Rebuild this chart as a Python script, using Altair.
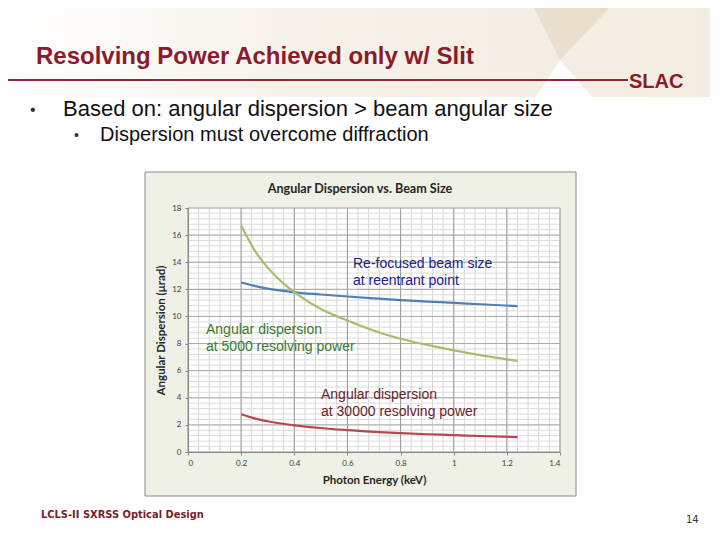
import altair as alt
import pandas as pd
import numpy as np

# ---- chart data ----
energy = [0.2, 0.25, 0.3, 0.35, 0.4, 0.5, 0.6, 0.7, 0.8, 0.9, 1.0, 1.1, 1.24]
disp_5000 = [16.7, 14.9, 13.6, 12.6, 11.8, 10.55, 9.7, 8.95, 8.35, 7.9, 7.5, 7.15, 6.72]
beam_size = [12.5, 12.25, 12.05, 11.9, 11.78, 11.62, 11.47, 11.33, 11.2, 11.1, 11.0, 10.9, 10.76]
disp_30000 = [2.78, 2.48, 2.27, 2.1, 1.97, 1.77, 1.61, 1.49, 1.39, 1.31, 1.25, 1.18, 1.1]

series_names = ["beam", "rp5000", "rp30000"]
series_colors = ["#4F7FB5", "#A6BD6A", "#B8464C"]

x_ticks = [0, 0.2, 0.4, 0.6, 0.8, 1.0, 1.2, 1.4]
y_ticks = [0, 2, 4, 6, 8, 10, 12, 14, 16, 18]

# ---- layout helpers ----
W, H = 372, 244
PX0, PY0 = 188, 208  # page position of plot origin


def px(x):
    return x - PX0


def py(y):
    return y - PY0


one = pd.DataFrame({"a": [0]})

xs = alt.Scale(domain=[0, 1.4], nice=False, zero=False)
ys = alt.Scale(domain=[0, 18], nice=False, zero=False)

x_axis = alt.Axis(values=x_ticks, labelExpr="format(datum.value, '~g')", grid=False,
                  title="Photon Energy (keV)", titleFont="Lato", titleFontSize=11.5,
                  titleFontWeight="bold", titleColor="#262626", titlePadding=7,
                  labelFont="Lato", labelFontSize=8, labelColor="#404040", labelPadding=4,
                  domainColor="#868686", tickColor="#868686", tickSize=3, zindex=1)
y_axis = alt.Axis(values=y_ticks, format="d", grid=False,
                  title="Angular Dispersion (μrad)", titleFont="Lato", titleFontSize=11.5,
                  titleFontWeight="bold", titleColor="#262626", titlePadding=5,
                  labelFont="Lato", labelFontSize=8, labelColor="#404040", labelPadding=4,
                  domainColor="#868686", tickColor="#868686", tickSize=3, zindex=1)


def txt(s, x, y, size, color, weight="normal", font="Liberation Sans", align="left",
        baseline="alphabetic"):
    return alt.Chart(one).mark_text(text=s, fontSize=size, color=color, fontWeight=weight,
                                    font=font, align=align, baseline=baseline).encode(
        x=alt.value(px(x)), y=alt.value(py(y)))


def shape(path, color):
    return alt.Chart(one).mark_point(shape=path, size=4, filled=True, opacity=1,
                                     fill=color, strokeWidth=0).encode(
        x=alt.value(0), y=alt.value(0))


def tri(pts):
    return "M" + " L".join(f"{px(a)},{py(b)}" for a, b in pts) + " Z"


# ---- slide decoration ----
header = alt.Chart(one).mark_rect(color=alt.Gradient(
    gradient="linear",
    stops=[alt.GradientStop(color="#FFFFFF", offset=0),
           alt.GradientStop(color="#F6F1E9", offset=0.45),
           alt.GradientStop(color="#F3ECE1", offset=1)],
    x1=0, x2=1, y1=0, y2=0)).encode(
    x=alt.value(px(0)), x2=alt.value(px(720)), y=alt.value(py(0)), y2=alt.value(py(97)))

dark_tri = shape(tri([(530, 0), (617, 0), (560, 60)]), "#EADFCC")
white_tri = shape(tri([(560, 60), (536, 97), (592, 97)]), "#FFFFFF")

hline = alt.Chart(one).mark_rule(color="#8C2A36", strokeWidth=2).encode(
    x=alt.value(px(0)), x2=alt.value(px(628)), y=alt.value(py(80)))

title = txt("Resolving Power Achieved only w/ Slit", 36, 64, 24, "#8B1A2B", weight="bold")
slac = txt("SLAC", 629, 88, 20, "#8B1A2B", weight="bold")
b1 = txt("•", 30, 115, 16, "#333333")
l1 = txt("Based on: angular dispersion > beam angular size", 63, 116, 22, "#111111")
b2 = txt("•", 74, 140, 14, "#333333")
l2 = txt("Dispersion must overcome diffraction", 100, 141, 20, "#111111")
footer = txt("LCLS-II SXRSS Optical Design", 41, 518, 11, "#7A1E2A", weight="bold",
             font="DejaVu Sans Condensed, Liberation Sans, sans-serif")
page_no = txt("14", 686, 523, 11, "#333333",
              font="DejaVu Sans Condensed, Liberation Sans, sans-serif")

# ---- chart frame ----
box = alt.Chart(one).mark_rect(fill="#EFF0E6", stroke="#8A8A8A", strokeWidth=1).encode(
    x=alt.value(px(145)), x2=alt.value(px(576)), y=alt.value(py(172)), y2=alt.value(py(496)))
plot_bg = alt.Chart(one).mark_rect(fill="#FFFFFF").encode(
    x=alt.value(0), x2=alt.value(W), y=alt.value(0), y2=alt.value(H))
chart_title = txt("Angular Dispersion vs. Beam Size", 360, 193, 12.6, "#262626",
                  weight="bold", font="Lato", align="center")

# ---- grid ----
x_minor = [round(v, 2) for v in np.arange(0, 1.4001, 0.04)]
y_minor = [round(v, 1) for v in np.arange(0, 18.001, 0.4)]

gx_minor = alt.Chart(pd.DataFrame({"v": x_minor})).mark_rule(color="#D6D6D6", strokeWidth=1).encode(
    x=alt.X("v:Q", scale=xs, axis=x_axis))
gy_minor = alt.Chart(pd.DataFrame({"v": y_minor})).mark_rule(color="#DCDCDC", strokeWidth=1).encode(
    y=alt.Y("v:Q", scale=ys, axis=y_axis))
gx_major = alt.Chart(pd.DataFrame({"v": x_ticks})).mark_rule(color="#9A9A9A", strokeWidth=1).encode(
    x=alt.X("v:Q", scale=xs, axis=x_axis))
gy_major = alt.Chart(pd.DataFrame({"v": y_ticks})).mark_rule(color="#A8A8A8", strokeWidth=1).encode(
    y=alt.Y("v:Q", scale=ys, axis=y_axis))

# ---- series ----
rows = []
for name, vals in zip(series_names, [beam_size, disp_5000, disp_30000]):
    for e, v in zip(energy, vals):
        rows.append({"energy": e, "value": v, "series": name})
df = pd.DataFrame(rows)

lines = alt.Chart(df).mark_line(strokeWidth=2.2, interpolate="monotone").encode(
    x=alt.X("energy:Q", scale=xs, axis=x_axis),
    y=alt.Y("value:Q", scale=ys, axis=y_axis),
    color=alt.Color("series:N", scale=alt.Scale(domain=series_names, range=series_colors),
                    legend=None),
    detail="series:N")

# ---- annotations ----
ann1 = txt("Re-focused beam size", 353, 268, 14, "#22228C")
ann2 = txt("at reentrant point", 353, 285, 14, "#22228C")
ann3 = txt("Angular dispersion", 206, 334, 14, "#3B7A2E")
ann4 = txt("at 5000 resolving power", 206, 351, 14, "#3B7A2E")
ann5 = txt("Angular dispersion", 321, 399, 14, "#6A1F2B")
ann6 = txt("at 30000 resolving power", 321, 416, 14, "#6A1F2B")

chart = alt.layer(
    header, dark_tri, white_tri, hline, title, slac, b1, l1, b2, l2, footer, page_no,
    box, plot_bg, chart_title,
    gx_minor, gy_minor, gx_major, gy_major, lines,
    ann1, ann2, ann3, ann4, ann5, ann6,
).properties(
    width=W, height=H,
    padding={"left": 180, "top": 200, "right": 150, "bottom": 78},
    autosize=alt.AutoSizeParams(type="none"),
    background="#FFFFFF",
).configure_view(strokeWidth=0)

chart.save("out.html", embed_options={"renderer": "svg", "actions": False})
